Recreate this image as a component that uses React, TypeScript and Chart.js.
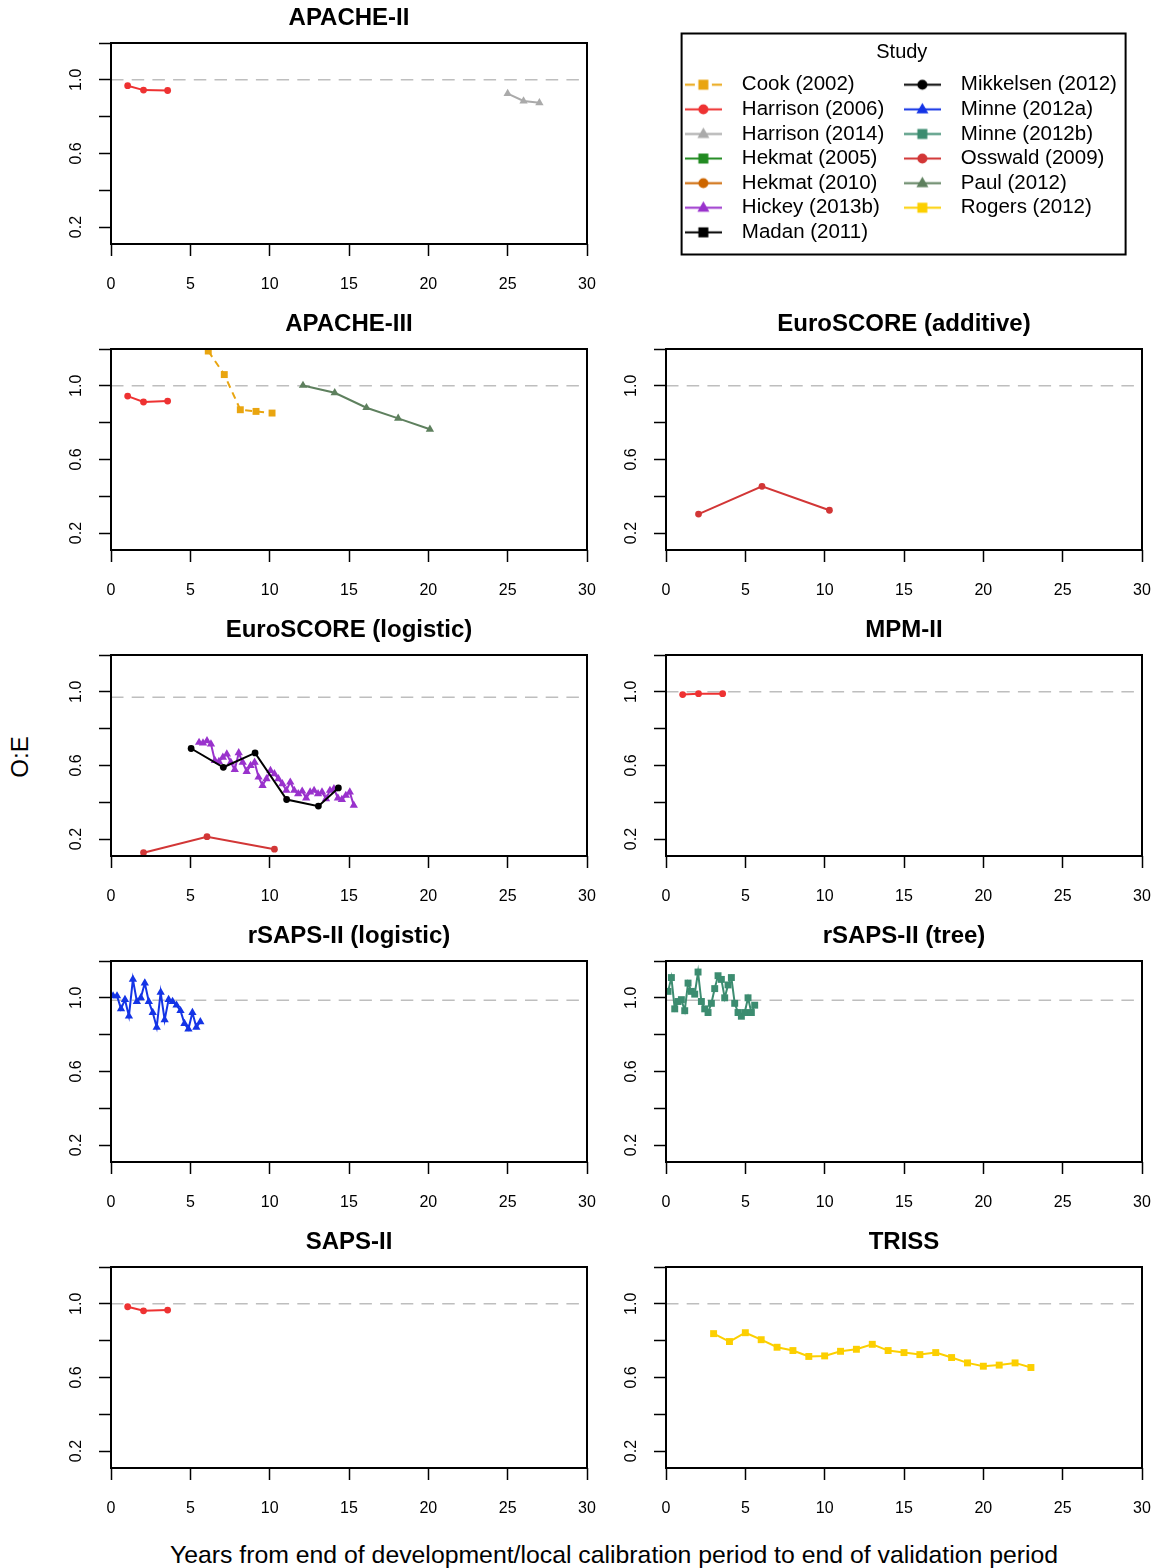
import React, { useEffect, useRef } from 'react';
import { Chart, registerables } from 'chart.js';

Chart.register(...registerables);

const FONT = '"Liberation Sans", Arial, Helvetica, sans-serif';
Chart.defaults.font.family = FONT;
Chart.defaults.color = '#000';

// ---- studies (legend) ----
const studyNames = [
  'Cook (2002)', 'Harrison (2006)', 'Harrison (2014)', 'Hekmat (2005)', 'Hekmat (2010)',
  'Hickey (2013b)', 'Madan (2011)', 'Mikkelsen (2012)', 'Minne (2012a)', 'Minne (2012b)',
  'Osswald (2009)', 'Paul (2012)', 'Rogers (2012)',
];
const studyColors = [
  '#E9A510', '#EE3232', '#AAAAAA', '#228B22', '#CD6600',
  '#9932CC', '#000000', '#000000', '#1434E6', '#3C8C70',
  '#D23636', '#5E805E', '#FCCF00',
];
const studyMarkers = [
  'rect', 'circle', 'triangle', 'rect', 'circle',
  'triangle', 'rect', 'circle', 'triangle', 'rect',
  'circle', 'triangle', 'rect',
];
const studyDashed = [true, false, false, false, false, false, false, false, false, false, false, false, false];

// ---- axes ----
const xTickValues = [0, 5, 10, 15, 20, 25, 30];
const yTickValues = [0.2, 0.4, 0.6, 0.8, 1.0, 1.2];
const yTickLabels = ['0.2', '', '0.6', '', '1.0', ''];

// ---- data ----
const harrison2006X = [1.05, 2.05, 3.57];
const harrison2006ApacheII = [0.968, 0.944, 0.942];
const harrison2006ApacheIII = [0.944, 0.912, 0.917];
const harrison2006MpmII = [0.985, 0.99, 0.99];
const harrison2006SapsII = [0.984, 0.962, 0.966];

const harrison2014X = [25, 26, 27];
const harrison2014ApacheII = [0.925, 0.885, 0.875];

const cook2002X = [6.13, 7.14, 8.15, 9.14, 10.15];
const cook2002ApacheIII = [1.189, 1.061, 0.87, 0.861, 0.852];

const paul2012X = [12.1, 14.1, 16.1, 18.1, 20.1];
const paul2012ApacheIII = [1.002, 0.962, 0.881, 0.823, 0.764];

const osswald2009X = [2.05, 6.05, 10.3];
const osswald2009Additive = [0.303, 0.454, 0.324];
const osswald2009Logistic = [0.126, 0.213, 0.145];

const mikkelsen2012X = [5.05, 7.08, 9.08, 11.07, 13.07, 14.33];
const mikkelsen2012Logistic = [0.692, 0.59, 0.668, 0.415, 0.379, 0.478];

const hickey2013bX = [
  5.55, 5.8, 6.05, 6.3, 6.55, 6.8, 7.05, 7.3, 7.55, 7.8,
  8.05, 8.3, 8.55, 8.8, 9.05, 9.3, 9.55, 9.8, 10.05, 10.3,
  10.55, 10.8, 11.05, 11.3, 11.55, 11.8, 12.05, 12.3, 12.55, 12.8,
  13.05, 13.3, 13.55, 13.8, 14.05, 14.3, 14.55, 14.8, 15.05, 15.3,
];
const hickey2013bLogistic = [
  0.725, 0.722, 0.734, 0.716, 0.626, 0.621, 0.644, 0.662, 0.617, 0.577,
  0.668, 0.617, 0.567, 0.599, 0.617, 0.536, 0.491, 0.527, 0.572, 0.554,
  0.527, 0.5, 0.464, 0.509, 0.464, 0.446, 0.46, 0.423, 0.455, 0.464,
  0.446, 0.455, 0.419, 0.464, 0.473, 0.423, 0.415, 0.437, 0.455, 0.383,
];

const minne2012aX = [
  0.13, 0.38, 0.63, 0.88, 1.13, 1.38, 1.63, 1.88, 2.13, 2.38, 2.63, 2.88,
  3.13, 3.38, 3.63, 3.88, 4.13, 4.38, 4.63, 4.88, 5.13, 5.38, 5.63,
];
const minne2012aLogistic = [
  1.01, 1.01, 0.94, 0.99, 0.9, 1.1, 0.98, 1.0, 1.08, 0.98, 0.92, 0.84,
  1.03, 0.88, 0.99, 0.98, 0.96, 0.93, 0.86, 0.83, 0.92, 0.84, 0.87,
];

const minne2012bX = [
  0.13, 0.34, 0.55, 0.76, 0.97, 1.18, 1.39, 1.6, 1.81, 2.02, 2.23, 2.44, 2.65, 2.86,
  3.07, 3.28, 3.49, 3.7, 3.91, 4.12, 4.33, 4.54, 4.75, 4.96, 5.17, 5.38, 5.59,
];
const minne2012bTree = [
  1.035, 1.11, 0.94, 0.98, 0.99, 0.93, 1.08, 1.035, 1.02, 1.14, 0.98, 0.94, 0.92, 0.97,
  1.05, 1.12, 1.1, 1.0, 1.07, 1.11, 0.97, 0.92, 0.9, 0.92, 1.0, 0.92, 0.96,
];

const rogers2012X = [3, 4, 5, 6, 7, 8, 9, 10, 11, 12, 13, 14, 15, 16, 17, 18, 19, 20, 21, 22, 23];
const rogers2012Triss = [
  0.838, 0.795, 0.843, 0.805, 0.764, 0.746, 0.714, 0.717, 0.742, 0.753, 0.78,
  0.746, 0.735, 0.724, 0.735, 0.708, 0.679, 0.661, 0.667, 0.679, 0.654,
];

// ---- panels ----
type Series = { study: number; x: number[]; y: number[] };
type PanelDef = { title: string; row: number; col: number; ref: number; series: Series[] };

const panels: PanelDef[] = [
  { title: 'APACHE-II', row: 0, col: 0, ref: 1.0, series: [
    { study: 1, x: harrison2006X, y: harrison2006ApacheII },
    { study: 2, x: harrison2014X, y: harrison2014ApacheII },
  ] },
  { title: 'APACHE-III', row: 1, col: 0, ref: 1.0, series: [
    { study: 1, x: harrison2006X, y: harrison2006ApacheIII },
    { study: 0, x: cook2002X, y: cook2002ApacheIII },
    { study: 11, x: paul2012X, y: paul2012ApacheIII },
  ] },
  { title: 'EuroSCORE (additive)', row: 1, col: 1, ref: 1.0, series: [
    { study: 10, x: osswald2009X, y: osswald2009Additive },
  ] },
  { title: 'EuroSCORE (logistic)', row: 2, col: 0, ref: 0.97, series: [
    { study: 10, x: osswald2009X, y: osswald2009Logistic },
    { study: 7, x: mikkelsen2012X, y: mikkelsen2012Logistic },
    { study: 5, x: hickey2013bX, y: hickey2013bLogistic },
  ] },
  { title: 'MPM-II', row: 2, col: 1, ref: 1.0, series: [
    { study: 1, x: harrison2006X, y: harrison2006MpmII },
  ] },
  { title: 'rSAPS-II (logistic)', row: 3, col: 0, ref: 0.987, series: [
    { study: 8, x: minne2012aX, y: minne2012aLogistic },
  ] },
  { title: 'rSAPS-II (tree)', row: 3, col: 1, ref: 0.987, series: [
    { study: 9, x: minne2012bX, y: minne2012bTree },
  ] },
  { title: 'SAPS-II', row: 4, col: 0, ref: 1.0, series: [
    { study: 1, x: harrison2006X, y: harrison2006SapsII },
  ] },
  { title: 'TRISS', row: 4, col: 1, ref: 1.0, series: [
    { study: 12, x: rogers2012X, y: rogers2012Triss },
  ] },
];

const markerRadius: Record<string, number> = { rect: 4.9, circle: 3.4, triangle: 4.8 };

const boxPlugin = {
  id: 'plotBox',
  afterDatasetsDraw(chart: any) {
    const { ctx, chartArea } = chart;
    ctx.save();
    ctx.strokeStyle = '#000';
    ctx.lineWidth = 2;
    ctx.strokeRect(chartArea.left, chartArea.top, chartArea.right - chartArea.left, chartArea.bottom - chartArea.top);
    ctx.restore();
  },
};

const ROW_STEP = 306;
const COL_LEFT = [40, 595];
const PLOT_RIGHT = [587, 1142];
const CANVAS_W = 580;
const CANVAS_H = 300;

function Panel({ p }: { p: PanelDef }) {
  const ref = useRef<HTMLCanvasElement>(null);
  useEffect(() => {
    const datasets: any[] = p.series.map((s) => {
      const color = studyColors[s.study];
      const marker = studyMarkers[s.study];
      return {
        label: studyNames[s.study],
        data: s.x.map((x, i) => ({ x, y: s.y[i] })),
        borderColor: color,
        backgroundColor: color,
        pointBackgroundColor: color,
        pointBorderColor: color,
        pointBorderWidth: 0,
        borderWidth: 2,
        borderDash: studyDashed[s.study] ? [7, 5] : [],
        pointStyle: marker,
        pointRadius: markerRadius[marker],
        tension: 0,
        fill: false,
        order: 1,
      };
    });
    datasets.push({
      label: 'reference',
      data: [{ x: 0, y: p.ref }, { x: 30, y: p.ref }],
      borderColor: '#BEBEBE',
      borderWidth: 1.5,
      borderDash: [12.5, 8.2],
      pointRadius: 0,
      fill: false,
      order: 2,
    });
    const rightPad = COL_LEFT[p.col] + CANVAS_W - PLOT_RIGHT[p.col];
    const chart = new Chart(ref.current as HTMLCanvasElement, {
      type: 'line',
      data: { datasets },
      plugins: [boxPlugin],
      options: {
        animation: false,
        responsive: false,
        devicePixelRatio: 1,
        layout: { padding: { left: 0, right: rightPad, top: 0, bottom: 0 } },
        plugins: {
          legend: { display: false },
          tooltip: { enabled: false },
          title: {
            display: true,
            fullSize: false,
            text: p.title,
            color: '#000',
            font: { size: 24, weight: 'bold', family: FONT, lineHeight: 1.2 },
            padding: { top: 4.2, bottom: 10 },
          },
        },
        scales: {
          x: {
            type: 'linear',
            min: 0,
            max: 30,
            afterBuildTicks: (s: any) => { s.ticks = xTickValues.map((v) => ({ value: v })); },
            afterFit: (s: any) => { s.height = 56; s.paddingLeft = 0; s.paddingRight = 0; },
            ticks: {
              autoSkip: false,
              maxRotation: 0,
              padding: 19.2,
              color: '#000',
              font: { size: 16, family: FONT },
              callback: (v: any) => String(v),
            },
            grid: { drawOnChartArea: false, drawTicks: true, tickLength: 12, tickColor: '#000', tickWidth: 1.5, color: '#000' },
            border: { display: false },
          },
          y: {
            type: 'linear',
            min: 0.108,
            max: 1.2,
            afterBuildTicks: (s: any) => { s.ticks = yTickValues.map((v) => ({ value: v })); },
            afterFit: (s: any) => { s.width = 71; s.paddingTop = 0; s.paddingBottom = 0; },
            ticks: {
              autoSkip: false,
              minRotation: 90,
              maxRotation: 90,
              crossAlign: 'center',
              padding: 11,
              color: '#000',
              font: { size: 16, family: FONT },
              callback: (_v: any, i: number) => yTickLabels[i],
            },
            grid: { drawOnChartArea: false, drawTicks: true, tickLength: 12, tickColor: '#000', tickWidth: 1.5, color: '#000' },
            border: { display: false },
          },
        },
      } as any,
    });
    return () => chart.destroy();
  }, []);
  return (
    <canvas
      ref={ref}
      width={CANVAS_W}
      height={CANVAS_H}
      style={{ position: 'absolute', left: COL_LEFT[p.col], top: p.row * ROW_STEP, width: CANVAS_W, height: CANVAS_H }}
    />
  );
}

function makeLegendImage(i: number): HTMLCanvasElement {
  const c = document.createElement('canvas');
  c.width = 37;
  c.height = 15;
  const g = c.getContext('2d') as CanvasRenderingContext2D;
  const color = studyColors[i];
  const cx = 18.5;
  const cy = 7.5;
  g.strokeStyle = color;
  g.fillStyle = color;
  g.lineWidth = 2;
  g.beginPath();
  if (studyDashed[i]) {
    g.moveTo(0, cy); g.lineTo(10, cy);
    g.moveTo(27, cy); g.lineTo(37, cy);
  } else {
    g.moveTo(0, cy); g.lineTo(37, cy);
  }
  g.stroke();
  const m = studyMarkers[i];
  g.beginPath();
  if (m === 'rect') {
    g.rect(cx - 5, cy - 5, 10, 10);
  } else if (m === 'circle') {
    g.arc(cx, cy, 5, 0, Math.PI * 2);
  } else {
    g.moveTo(cx, cy - 6.5);
    g.lineTo(cx + 6, cy + 4);
    g.lineTo(cx - 6, cy + 4);
    g.closePath();
  }
  g.fill();
  return c;
}

const LEG_LEFT = 671.4;
const LEG_TOP = 29.5;
// invisible trailing spaces widen the two legend columns to the reference spacing
const legendColumnPad = ['Harrison (2006)', 'Harrison (2014)', 'Mikkelsen (2012)'];

const legendBoxPlugin = {
  id: 'legendBox',
  afterDraw(chart: any) {
    const { ctx } = chart;
    ctx.save();
    ctx.strokeStyle = '#000';
    ctx.lineWidth = 2;
    ctx.strokeRect(682 - LEG_LEFT, 33 - LEG_TOP, 1126 - 682, 254 - 33);
    ctx.restore();
  },
};

function LegendChart() {
  const ref = useRef<HTMLCanvasElement>(null);
  useEffect(() => {
    const images = studyNames.map((_, i) => makeLegendImage(i));
    const chart = new Chart(ref.current as HTMLCanvasElement, {
      type: 'line',
      data: {
        datasets: studyNames.map((n, i) => ({
          label: n,
          data: [],
          borderColor: studyColors[i],
          backgroundColor: studyColors[i],
          pointStyle: images[i] as any,
        })),
      },
      plugins: [legendBoxPlugin],
      options: {
        animation: false,
        responsive: false,
        devicePixelRatio: 1,
        layout: { padding: { top: 6, bottom: 6, left: 0, right: 0 } },
        scales: { x: { display: false }, y: { display: false } },
        plugins: {
          tooltip: { enabled: false },
          title: { display: false },
          legend: {
            display: true,
            position: 'left',
            align: 'start',
            title: {
              display: true,
              text: 'Study',
              color: '#000',
              font: { size: 20, family: FONT, lineHeight: 1.2 },
              padding: { top: 6, bottom: 4.4 },
            },
            labels: {
              usePointStyle: true,
              pointStyleWidth: 56.5,
              padding: 4.1,
              color: '#000',
              font: { size: 20.5, family: FONT },
              generateLabels: (ch: any) => ch.data.datasets.map((d: any, i: number) => ({
                text: legendColumnPad.includes(d.label) ? d.label + ' ' : d.label,
                pointStyle: images[i],
                fillStyle: studyColors[i],
                strokeStyle: studyColors[i],
                lineWidth: 0,
                hidden: false,
                datasetIndex: i,
                fontColor: '#000',
              })),
            },
          },
        },
      } as any,
    });
    return () => chart.destroy();
  }, []);
  return (
    <canvas
      ref={ref}
      width={1000}
      height={232}
      style={{ position: 'absolute', left: LEG_LEFT, top: LEG_TOP, width: 1000, height: 232 }}
    />
  );
}

export default function App() {
  return (
    <div style={{ position: 'absolute', left: 0, top: 0, width: 1157, height: 1568, background: '#fff', overflow: 'hidden', fontFamily: FONT }}>
      {panels.map((p) => <Panel key={p.title} p={p} />)}
      <LegendChart />
      <div style={{ position: 'absolute', left: 20, top: 757, transform: 'translate(-50%, -50%) rotate(-90deg)', fontSize: 24, whiteSpace: 'nowrap', color: '#000' }}>O:E</div>
      <div style={{ position: 'absolute', left: 614, top: 1555, transform: 'translate(-50%, -50%)', fontSize: 24.8, whiteSpace: 'nowrap', color: '#000' }}>
        Years from end of development/local calibration period to end of validation period
      </div>
    </div>
  );
}
